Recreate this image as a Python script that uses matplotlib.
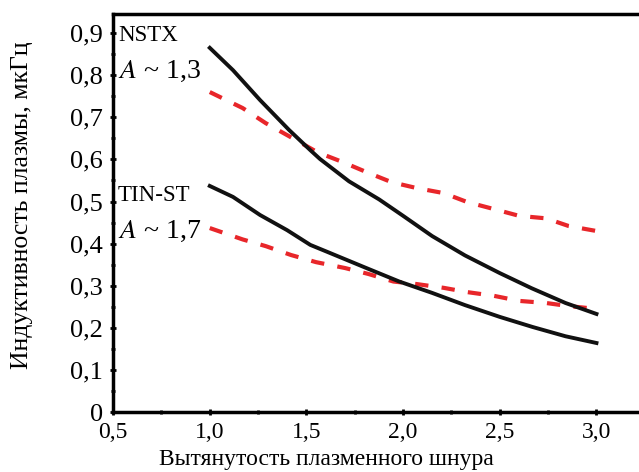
import matplotlib
matplotlib.use("Agg")
import matplotlib.pyplot as plt
from matplotlib.ticker import MultipleLocator, FixedLocator

plt.rcParams['font.family'] = ['Liberation Serif', 'DejaVu Serif']
plt.rcParams['mathtext.fontset'] = 'stix'

# NSTX (A ~ 1,3)
nstx_x = [1.0, 1.12, 1.26, 1.41, 1.52, 1.57, 1.72, 1.876, 2.0, 2.15, 2.32, 2.5, 2.665, 2.84, 3.0]
nstx_solid = [0.865, 0.812, 0.741, 0.670, 0.622, 0.601, 0.548, 0.505, 0.466, 0.418, 0.372, 0.33, 0.294, 0.259, 0.233]
nstx_dx = [1.0, 1.17, 1.29, 1.43, 1.557, 1.686, 1.81, 1.94, 2.07, 2.21, 2.33, 2.47, 2.6, 2.74, 2.855, 3.0]
nstx_dash = [0.76, 0.722, 0.686, 0.65, 0.617, 0.594, 0.57, 0.546, 0.532, 0.52, 0.499, 0.482, 0.466, 0.46, 0.442, 0.43]

# TIN-ST (A ~ 1,7)
tin_x = [1.0, 1.12, 1.26, 1.4, 1.52, 1.61, 1.81, 1.98, 2.15, 2.32, 2.5, 2.67, 2.84, 3.0]
tin_solid = [0.537, 0.511, 0.468, 0.432, 0.397, 0.38, 0.342, 0.31, 0.283, 0.254, 0.226, 0.202, 0.18, 0.164]
tin_dx = [1.0, 1.17, 1.29, 1.42, 1.55, 1.7, 1.82, 1.95, 2.07, 2.21, 2.33, 2.47, 2.6, 2.74, 2.85, 3.0]
tin_dash = [0.437, 0.41, 0.394, 0.373, 0.356, 0.342, 0.328, 0.31, 0.304, 0.295, 0.285, 0.276, 0.264, 0.259, 0.252, 0.245]

xticks = [0.5, 1.0, 1.5, 2.0, 2.5, 3.0]
xlabels = ['0,5', '1,0', '1,5', '2,0', '2,5', '3,0']
yticks = [0, 0.1, 0.2, 0.3, 0.4, 0.5, 0.6, 0.7, 0.8, 0.9]
ylabels = ['0', '0,1', '0,2', '0,3', '0,4', '0,5', '0,6', '0,7', '0,8', '0,9']

fig = plt.figure(figsize=(6.39, 4.72), dpi=100)
ax = fig.add_axes([0.177, 0.127, 0.823, 0.843])

red = '#e8262a'
ax.plot(nstx_dx, nstx_dash, color=red, lw=3.0, dashes=(3.2, 3.2))
ax.plot(tin_dx, tin_dash, color=red, lw=3.0, dashes=(3.2, 3.2))
ax.plot(nstx_x, nstx_solid, color='#111111', lw=2.8)
ax.plot(tin_x, tin_solid, color='#111111', lw=2.8)

ax.set_xlim(0.5, 3.22)
ax.set_ylim(0, 0.945)
ax.set_xticks(xticks)
ax.set_xticklabels(xlabels)
ax.set_yticks(yticks)
ax.set_yticklabels(ylabels)
ax.xaxis.set_minor_locator(FixedLocator([0.75, 1.25, 1.75, 2.25, 2.75]))
ax.yaxis.set_minor_locator(MultipleLocator(0.05))
ax.tick_params(which='both', direction='inout', width=2)
ax.tick_params(which='major', length=5)
ax.tick_params(which='minor', length=3)
ax.tick_params(axis='y', pad=5, labelsize=19)
ax.tick_params(axis='x', pad=5, labelsize=17)

for s in ['left', 'bottom', 'top']:
    ax.spines[s].set_linewidth(2.5)
ax.spines['right'].set_visible(False)

ax.text(0.525, 0.895, 'NSTX', fontsize=16.5, va='center')
ax.text(0.525, 0.81, r'$A$ ~ 1,3', fontsize=20, va='center')
ax.text(0.525, 0.515, 'TIN-ST', fontsize=16.5, va='center')
ax.text(0.525, 0.43, r'$A$ ~ 1,7', fontsize=20, va='center')

ax.set_xlabel('Вытянутость плазменного шнура', fontsize=17)
ax.set_ylabel('Индуктивность плазмы, мкГц', fontsize=18.5)
ax.xaxis.set_label_coords(0.405, -0.092)
ax.yaxis.set_label_coords(-0.152, 0.52)

fig.savefig('out.png', dpi=100)
